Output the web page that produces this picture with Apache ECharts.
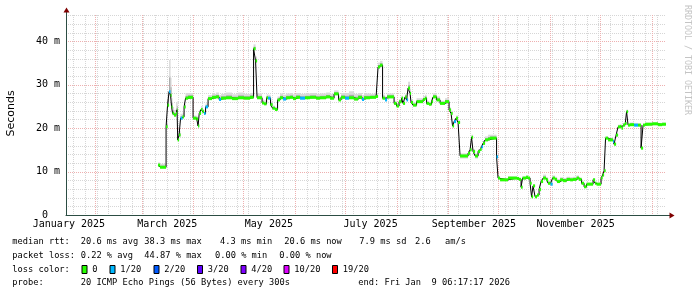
<!DOCTYPE html>
<html><head><meta charset="utf-8">
<script src="https://cdn.jsdelivr.net/npm/echarts@6/dist/echarts.min.js"></script>
<style>html,body{margin:0;padding:0;background:#fff}#c{width:697px;height:297px}</style>
</head><body><div id="c"></div>
<script>
// ---- data (days since 2025-01-01 UTC) ----
const dayOfYear = [68.5,69.7,73.3,74.2,75.1,76.0,76.6,77.2,78.1,79.3,79.9,80.3,81.1,82.0,83.2,84.1,85.0,86.5,89.5,91.6,92.5,93.2,94.3,95.2,96.1,97.0,98.5,100.9,103.3,105.1,106.3,109.3,112.9,116.5,120.1,123.7,125.8,127.0,127.9,130.9,132.1,133.6,134.5,136.0,137.2,138.7,140.2,141.7,143.5,145.3,147.7,149.5,151.3,153.7,156.7,159.7,163.3,165.7,169.3,171.7,174.1,176.8,178.3,180.7,183.1,186.1,188.5,190.9,192.1,195.7,199.3,200.5,201.7,203.2,204.7,205.9,210.1,211.6,213.1,214.6,215.5,216.7,217.6,218.5,219.7,220.3,221.5,223.6,227.5,228.7,229.6,231.1,232.6,233.5,235.6,237.7,240.7,243.1,244.3,245.2,246.1,247.3,248.5,249.7,254.5,255.7,256.6,257.5,258.7,260.5,261.7,262.6,263.5,264.7,266.5,267.7,271.6,272.5,273.7,278.5,283.9,285.1,286.3,287.2,289.3,290.5,291.7,292.6,293.5,294.7,295.9,297.1,298.3,299.5,301.3,302.5,304.0,305.2,306.7,307.9,309.7,311.5,313.6,315.7,317.5,319.6,321.1,322.6,324.1,325.6,329.5,330.7,331.6,334.3,335.2,336.1,337.0,338.5,341.5,342.1,343.3,344.5,345.7,346.6,347.5,348.7,349.6,350.5,351.7,354.1,356.5,358.3,359.5,360.7,364.9,368.5,370.9,373.2];
const medianMs = [11.5,11.0,20.3,25.3,28.4,27.6,24.9,23.4,23.0,23.4,24.2,17.3,18.4,22.3,22.6,24.9,26.9,27.1,22.3,22.1,20.5,23.4,24.3,23.8,23.4,24.9,26.8,27.1,27.2,26.6,26.9,27.0,26.8,27.0,26.9,27.1,38.3,35.5,27.0,25.8,25.6,27.0,26.9,25.4,24.6,24.3,26.5,27.0,26.7,27.0,27.1,26.8,27.1,26.9,27.0,27.1,26.9,27.0,27.2,26.9,27.9,26.5,27.1,26.9,27.0,26.7,27.1,26.6,27.0,27.1,27.3,34.1,34.5,26.9,26.5,27.2,25.7,25.1,26.1,26.9,25.7,27.2,26.5,29.2,28.0,25.9,25.3,26.1,26.6,26.9,25.7,25.5,26.1,27.2,26.5,25.7,26.1,24.2,23.4,20.5,21.5,22.3,21.3,13.6,14.2,15.0,17.9,14.6,13.6,14.6,15.1,15.7,16.5,17.3,17.5,17.7,13.4,8.5,8.1,8.5,8.4,8.2,6.4,8.5,8.7,8.5,7.3,4.2,6.7,4.2,4.6,5.9,7.7,8.5,8.1,7.3,7.1,8.5,8.2,7.7,8.1,7.9,8.2,8.1,8.2,8.5,8.2,7.3,6.5,7.1,8.1,7.3,7.1,8.5,9.2,10.2,17.7,17.3,16.9,16.3,18.4,20.3,20.4,20.0,20.7,21.1,23.8,20.7,20.8,20.7,20.7,15.4,20.7,20.9,21.0,20.8,20.9,20.9];
const lossPings = [0,0,0,0,1,0,0,0,0,0,0,0,0,1,0,0,0,0,0,0,0,0,0,0,1,1,0,0,0,1,0,0,0,0,0,0,0,0,0,0,0,0,1,0,0,0,0,0,1,0,0,0,0,1,0,0,0,0,0,0,0,0,0,1,0,0,0,1,0,0,0,0,0,0,1,0,0,0,0,0,0,0,1,0,0,0,0,0,0,0,0,0,0,0,0,0,0,0,0,0,1,0,0,0,0,0,0,0,0,0,0,1,0,0,0,0,1,0,0,0,0,0,0,0,0,0,0,0,0,0,0,0,0,0,0,0,1,0,0,0,0,0,0,0,0,0,0,0,0,0,0,0,0,0,0,0,0,0,1,0,0,0,0,0,0,0,0,0,0,1,0,0,0,0,0,0,0];
const smokeUp = [0.6,0.8,1.5,3.0,7.3,4.0,2.0,1.5,1.2,2.5,2.0,1.5,1.0,1.0,1.0,0.8,1.2,1.0,0.6,0.6,0.6,0.8,0.8,0.6,0.6,0.8,0.8,0.8,1.0,1.0,1.0,1.2,1.0,1.2,1.0,1.0,1.0,1.0,1.0,0.8,0.8,0.8,0.8,0.6,0.6,0.6,0.8,1.0,1.0,1.0,1.0,1.0,1.0,1.0,1.0,1.0,1.0,1.0,1.0,1.0,0.8,0.8,1.0,1.2,1.5,1.2,1.0,1.0,1.0,0.8,0.8,1.0,1.0,0.8,0.8,0.8,0.6,0.6,0.6,0.6,0.6,0.6,0.8,1.5,1.0,0.6,0.6,0.8,0.8,0.8,0.6,0.6,0.8,0.8,0.8,0.6,0.8,0.6,0.6,0.6,0.6,0.6,0.6,0.6,0.6,0.6,0.6,0.6,0.6,0.6,0.6,0.6,0.6,0.8,1.0,0.8,0.4,0.4,0.4,0.4,0.4,0.4,0.4,0.4,0.4,0.4,0.4,0.4,0.4,0.4,0.4,0.4,0.4,0.8,0.6,0.6,0.6,0.6,0.6,0.6,0.6,0.6,0.6,0.6,0.6,0.6,0.4,0.4,0.4,0.4,0.4,0.4,0.4,0.4,0.4,0.4,0.4,0.5,0.5,0.5,0.5,0.5,0.5,0.5,0.5,0.5,0.5,0.5,0.5,0.5,0.4,0.4,0.4,0.4,0.4,0.4,0.4,0.4,0.4,0.4];
const smokeDown = [0.3,0.3,0.5,0.5,1.0,0.8,0.5,0.5,0.4,0.4,0.5,0.5,0.4,0.4,0.4,0.4,0.3,0.3,0.3,0.3,0.3,0.3,0.3,0.3,0.3,0.3,0.3,0.3,0.3,0.3,0.3,0.3,0.3,0.3,0.3,0.3,0.5,0.5,0.3,0.3,0.3,0.3,0.3,0.3,0.3,0.3,0.3,0.3,0.3,0.3,0.3,0.3,0.3,0.3,0.3,0.3,0.3,0.3,0.3,0.3,0.3,0.3,0.3,0.3,0.3,0.3,0.3,0.3,0.3,0.3,0.3,0.5,0.5,0.3,0.3,0.3,0.3,0.3,0.3,0.3,0.3,0.3,0.3,0.4,0.4,0.3,0.3,0.3,0.3,0.3,0.3,0.3,0.3,0.3,0.3,0.3,0.3,0.3,0.3,0.3,0.3,0.3,0.3,0.6,0.5,0.4,0.4,0.4,0.6,0.4,0.3,0.3,0.3,0.3,0.3,0.3,0.3,0.3,0.3,0.3,0.3,0.3,0.3,0.3,0.3,0.3,0.3,0.3,0.3,0.3,0.3,0.3,0.3,0.3,0.3,0.3,0.3,0.3,0.3,0.3,0.3,0.3,0.3,0.3,0.3,0.3,0.3,0.3,0.3,0.3,0.3,0.3,0.3,0.3,0.3,0.3,0.3,0.3,0.3,0.3,0.3,0.3,0.3,0.3,0.3,0.3,0.3,0.3,0.3,0.3,0.3,0.3,0.3,0.3,0.3,0.3,0.3,0.3,0.3,0.3,0.3,0.3];

const yTickValues = [0, 10, 20, 30, 40];
const yMinorValues = [2,4,6,8,12,14,16,18,22,24,26,28,32,34,36,38,42,44,46];
const xLabelDates = ['2025-01-16','2025-03-16','2025-05-16','2025-07-16','2025-09-16','2025-11-16'];
const xLabelTexts = ['January 2025','March 2025','May 2025','July 2025','September 2025','November 2025'];
const monthStarts = ['2025-02-01','2025-03-01','2025-04-01','2025-05-01','2025-06-01','2025-07-01','2025-08-01','2025-09-01','2025-10-01','2025-11-01','2025-12-01','2026-01-01'];
const firstSunday = '2025-01-19';

const lossThresholds = [0, 1, 2, 3, 4, 10, 19];
const lossLabels = ['0', '1/20', '2/20', '3/20', '4/20', '10/20', '19/20'];
const lossColors = ['#26ff00', '#00b8ff', '#0059ff', '#5e00ff', '#7e00ff', '#dd00ff', '#ff0000'];

const rttTexts = ['20.6 ms avg', '38.3 ms max', '4.3 ms min', '20.6 ms now', '7.9 ms sd', '2.6', 'am/s'];
const lossTexts = ['0.22 % avg', '44.87 % max', '0.00 % min', '0.00 % now'];
const probeText = '20 ICMP Echo Pings (56 Bytes) every 300s';
const endText = 'end: Fri Jan  9 06:17:17 2026';

// ---- build ----
const DAY = 86400000;
const T0 = Date.UTC(2025, 0, 1);
const startTs = Date.UTC(2025, 0, 14, 6, 17, 17);
const endTs = Date.UTC(2026, 0, 9, 6, 17, 17);
const YMAX = 46.06;
const ts = dayOfYear.map(d => T0 + d * DAY);
const lineData = ts.map((t, i) => [t, medianMs[i]]);
const segData = [];
for (let i = 0; i < ts.length - 1; i++) {
  segData.push([ts[i], ts[i + 1], medianMs[i], smokeUp[i], smokeDown[i], lossPings[i]]);
}
const weekTs = [];
for (let t = Date.parse(firstSunday); t <= endTs; t += 7 * DAY) weekTs.push(t);
const monthTs = monthStarts.map(s => Date.parse(s));
const labelTs = xLabelDates.map(s => Date.parse(s));

// grid line items: [value, kind]  kind 0 minor-v, 1 major-v, 2 minor-h, 3 major-h
const gridItems = [];
weekTs.forEach(t => gridItems.push([t, 0]));
yMinorValues.forEach(v => gridItems.push([v, 2]));
monthTs.forEach(t => gridItems.push([t, 1]));
yTickValues.filter(v => v > 0).forEach(v => gridItems.push([v, 3]));

function lossColor(n) {
  let c = lossColors[0];
  for (let k = 0; k < lossThresholds.length; k++) if (n >= lossThresholds[k]) c = lossColors[k];
  return c;
}

const MONO = '"DejaVu Sans Mono", monospace';
const FONT_LG = '8.7px ' + MONO;

const chart = echarts.init(document.getElementById('c'), null, {renderer: 'canvas'});

const graphics = [];
function txt(x, y, s) {
  graphics.push({type: 'text', x: x, y: y, silent: true,
    style: {text: s, font: FONT_LG, fill: '#000', textAlign: 'left', textVerticalAlign: 'middle', align: 'left', verticalAlign: 'middle'}});
}
const rowY = [242, 255.7, 269.4, 283.1];
txt(12.3, rowY[0], 'median rtt:');
const rttX = [80.7, 144.3, 220, 284.3, 359.3, 415, 445];
rttTexts.forEach((s, i) => txt(rttX[i], rowY[0], s));
txt(12.3, rowY[1], 'packet loss:');
const lossX = [80.7, 144.3, 215, 279.3];
lossTexts.forEach((s, i) => txt(lossX[i], rowY[1], s));
txt(12.3, rowY[2], 'loss color:');
const boxX = [81.5, 109.5, 153.5, 197, 240.5, 283.5, 332];
lossLabels.forEach((s, i) => {
  graphics.push({type: 'rect', silent: true, shape: {x: boxX[i] + 0.5, y: 265.5, width: 5, height: 8},
    style: {fill: lossColors[i], stroke: '#000', lineWidth: 1}});
  txt(boxX[i] + 10.8, rowY[2], s);
});
txt(12.3, rowY[3], 'probe:');
txt(80.7, rowY[3], probeText);
txt(358.3, rowY[3], endText);
graphics.push({type: 'text', x: 10.7, y: 113.5, rotation: Math.PI / 2, silent: true,
  style: {text: 'Seconds', font: '11px "DejaVu Sans", sans-serif', fill: '#000', textAlign: 'center', textVerticalAlign: 'middle', align: 'center', verticalAlign: 'middle'}});
graphics.push({type: 'text', x: 687.5, y: 60, rotation: -Math.PI / 2, silent: true,
  style: {text: 'RRDTOOL / TOBI OETIKER', font: '8.3px ' + MONO, fill: '#c4c4c4', textAlign: 'center', textVerticalAlign: 'middle', align: 'center', verticalAlign: 'middle'}});
graphics.push({type: 'line', silent: true, z: 10, shape: {x1: 66.5, y1: 15, x2: 66.5, y2: 11}, style: {stroke: '#2c4d43', lineWidth: 1}});
graphics.push({type: 'polygon', silent: true, z: 10, shape: {points: [[66.5, 7.5], [63.5, 12.5], [69.5, 12.5]]}, style: {fill: '#7f0000'}});
graphics.push({type: 'line', silent: true, z: 10, shape: {x1: 666, y1: 215.5, x2: 670, y2: 215.5}, style: {stroke: '#2c4d43', lineWidth: 1}});
graphics.push({type: 'polygon', silent: true, z: 10, shape: {points: [[674.5, 215.5], [669.5, 212.5], [669.5, 218.5]]}, style: {fill: '#7f0000'}});

const gridColors = ['#d6d6d6', '#eeb0b0', '#d6d6d6', '#eeb0b0'];

const option = {
  animation: false,
  backgroundColor: '#ffffff',
  grid: {left: 66, top: 15, width: 600, height: 200, containLabel: false},
  xAxis: {type: 'value', min: startTs, max: endTs, position: 'bottom', z: 5,
    axisLine: {show: true, lineStyle: {color: '#2c4d43', width: 1}},
    axisTick: {show: false, customValues: labelTs},
    axisLabel: {show: true, customValues: labelTs, margin: 4, color: '#000', fontFamily: MONO, fontSize: 10,
      formatter: v => { const k = labelTs.indexOf(v); return k >= 0 ? xLabelTexts[k] : ''; }},
    splitLine: {show: false}},
  yAxis: {type: 'value', min: 0, max: YMAX, position: 'left', z: 5,
    axisLine: {show: true, lineStyle: {color: '#2c4d43', width: 1}},
    axisTick: {show: false, customValues: yTickValues},
    axisLabel: {show: true, customValues: yTickValues, margin: 6, color: '#000', fontFamily: MONO, fontSize: 10,
      formatter: v => v === 0 ? '0  ' : (v + ' m')},
    splitLine: {show: false}},
  series: [
    {type: 'custom', name: 'grid', z: 0, silent: true, clip: false,
      encode: {x: 0},
      data: gridItems,
      renderItem: (params, api) => {
        const v = api.value(0), kind = api.value(1);
        const cs = params.coordSys;
        const style = {stroke: gridColors[kind], lineWidth: 1, lineDash: [1, 1], fill: null};
        if (kind < 2) {
          const x = Math.floor(api.coord([v, 0])[0]) + 0.5;
          return {type: 'line', shape: {x1: x, y1: cs.y, x2: x, y2: cs.y + cs.height}, style: style};
        }
        const y = Math.round(api.coord([startTs, v])[1]) + 0.5;
        return {type: 'line', shape: {x1: cs.x, y1: y, x2: cs.x + cs.width, y2: y}, style: style};
      }},
    {type: 'custom', name: 'smoke', z: 1, silent: true,
      encode: {x: [0, 1], y: [2]},
      data: segData,
      renderItem: (params, api) => {
        const t0 = api.value(0), t1 = api.value(1), m = api.value(2), up = api.value(3), dn = api.value(4);
        const a = api.coord([t0, m + up]), b = api.coord([t1, m - dn]);
        const ai = api.coord([t0, m + up * 0.45]), bi = api.coord([t1, m - dn * 0.5]);
        return {type: 'group', children: [
          {type: 'rect', shape: {x: a[0], y: a[1], width: b[0] - a[0], height: b[1] - a[1]}, style: {fill: '#dadada'}},
          {type: 'rect', shape: {x: ai[0], y: ai[1], width: bi[0] - ai[0], height: bi[1] - ai[1]}, style: {fill: '#a8a8a8'}}
        ]};
      }},
    {type: 'line', name: 'median', z: 3, silent: true,
      step: 'end', symbol: 'none', data: lineData,
      lineStyle: {color: '#000', width: 1}},
    {type: 'custom', name: 'loss', z: 4, silent: true,
      encode: {x: [0, 1], y: [2]},
      data: segData,
      renderItem: (params, api) => {
        const a = api.coord([api.value(0), api.value(2)]);
        const b = api.coord([api.value(1), api.value(2)]);
        return {type: 'rect', shape: {x: a[0], y: a[1] - 1.5, width: b[0] - a[0], height: 3},
          style: {fill: lossColor(api.value(5))}};
      }}
  ],
  graphic: graphics
};
chart.setOption(option);
</script>
</body></html>
